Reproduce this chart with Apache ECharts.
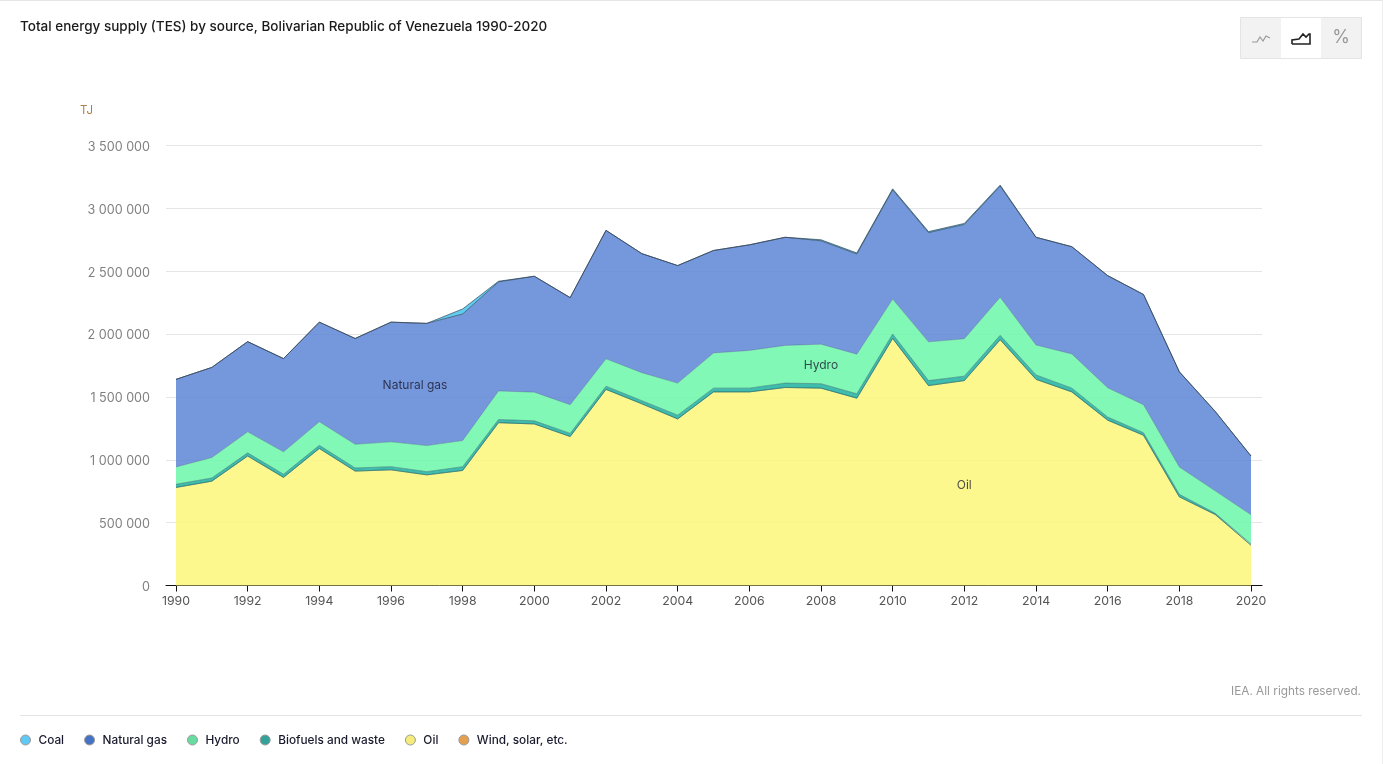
<!DOCTYPE html>
<html>
<head>
<meta charset="utf-8">
<title>Total energy supply</title>
<style>
  html, body { margin: 0; padding: 0; background: #fff; }
  #chart { width: 1383px; height: 764px; }
</style>
</head>
<body>
<div id="chart"></div>
<script src="https://cdn.jsdelivr.net/npm/echarts@6/dist/echarts.min.js"></script>
<script>
const years = ['1990','1991','1992','1993','1994','1995','1996','1997','1998','1999','2000','2001','2002','2003','2004','2005','2006','2007','2008','2009','2010','2011','2012','2013','2014','2015','2016','2017','2018','2019','2020'];

// TJ
const oil = [780000,830000,1030000,860000,1090000,910000,920000,880000,915000,1295000,1285000,1185000,1560000,1445000,1325000,1540000,1540000,1575000,1570000,1490000,1965000,1590000,1630000,1955000,1640000,1540000,1315000,1195000,705000,565000,320000];
const wind = [0,0,0,0,0,0,0,0,0,0,0,0,0,0,0,0,0,0,0,0,0,0,0,0,0,0,0,0,0,0,0];
const biofuels = [25000,25000,25000,25000,25000,25000,25000,25000,30000,25000,25000,25000,25000,25000,30000,30000,30000,35000,35000,35000,35000,40000,35000,35000,35000,30000,25000,20000,20000,10000,10000];
const hydro = [138000,163000,168000,178000,188000,188000,198000,208000,208000,228000,228000,228000,218000,223000,255000,280000,300000,300000,315000,315000,278000,308000,298000,303000,238000,272000,233000,223000,218000,178000,233000];
const gas = [697000,717000,717000,742000,792000,842000,952000,972000,1007000,867000,922000,852000,1022000,947000,935000,815000,840000,860000,822000,797000,869000,869000,909000,884000,857000,853000,892000,877000,757000,632000,467000];
const coal = [0,0,0,0,0,0,0,0,40000,5000,0,0,0,0,0,0,0,0,8000,8000,8000,8000,8000,8000,0,0,0,0,0,0,0];

const legendNames = ['Coal','Natural gas','Hydro','Biofuels and waste','Oil','Wind, solar, etc.'];
const legendColors = { 'Coal':'#5fc9f3', 'Natural gas':'#4472c4', 'Hydro':'#68dca0', 'Biofuels and waste':'#33a39a', 'Oil':'#f6ec7c', 'Wind, solar, etc.':'#e5a04f' };

const areaLabelNames = ['Natural gas','Hydro','Oil'];
const areaLabelYears = [1996.67,2008,2012];
const areaLabelValues = [1595000,1750000,800000];

const font = 'Inter, "Noto Sans", sans-serif';

function stackSeries(name, values, fill, alpha, line) {
  return {
    name: name,
    type: 'line',
    stack: 'tes',
    xAxisIndex: 1,
    yAxisIndex: 1,
    symbol: 'none',
    silent: true,
    data: values,
    lineStyle: { width: 1, color: line },
    itemStyle: { color: legendColors[name] },
    areaStyle: { color: fill, opacity: alpha }
  };
}

const chart = echarts.init(document.getElementById('chart'));
chart.setOption({
  animation: false,
  textStyle: { fontFamily: font },
  title: {
    text: 'Total energy supply (TES) by source, Bolivarian Republic of Venezuela 1990-2020',
    left: 15, top: 15,
    textStyle: { fontFamily: font, fontSize: 13.5, fontWeight: 500, color: '#1a1a1a' }
  },
  // outer grid carries the gridlines and the long axis line, inner grid the areas
  grid: [
    { left: 166, right: 121, top: 145.5, bottom: 178.5 },
    { left: 176, right: 132, top: 145.5, bottom: 178.5 }
  ],
  xAxis: [
    {
      type: 'value', gridIndex: 0, min: 1989.72, max: 2020.31,
      splitLine: { show: false },
      axisLine: { lineStyle: { color: '#111', width: 1 } },
      axisTick: { show: false },
      axisLabel: { show: false }
    },
    {
      type: 'category', gridIndex: 1, data: years, boundaryGap: false,
      axisLine: { show: false },
      axisTick: { show: true, length: 6, interval: 1, lineStyle: { color: '#111' } },
      axisLabel: { interval: 1, color: '#555', fontSize: 12.3, margin: 10 }
    }
  ],
  yAxis: [
    {
      type: 'value', gridIndex: 0, min: 0, max: 3500000, interval: 500000,
      axisLine: { show: false },
      axisTick: { show: false },
      splitLine: { lineStyle: { color: '#e6e6e6', width: 1 } },
      axisLabel: {
        margin: 16,
        formatter: v => '{t|' + String(v).replace(/\B(?=(\d{3})+$)/g, ' ') + '}',
        rich: { t: { color: '#808080', fontSize: 12.6, fontFamily: font, padding: [3, 0, 0, 0] } }
      }
    },
    {
      type: 'value', gridIndex: 1, min: 0, max: 3500000, interval: 500000, show: false
    }
  ],
  legend: {
    left: 15,
    top: 729,
    itemWidth: 10,
    itemHeight: 10,
    itemGap: 20,
    icon: 'circle',
    selectedMode: false,
    data: legendNames,
    itemStyle: { borderColor: '#999', borderWidth: 1 },
    textStyle: { fontFamily: font, fontSize: 11.8, fontWeight: 500, color: '#1a1a2e', padding: [0, 0, 0, 3] }
  },
  series: [
    stackSeries('Oil', oil, '#fdf77c', 0.86, 'rgba(60,120,110,0.6)'),
    stackSeries('Wind, solar, etc.', wind, '#e5a04f', 0.86, 'rgba(40,110,110,0.5)'),
    stackSeries('Biofuels and waste', biofuels, '#34b8aa', 0.95, 'rgba(50,110,110,0.55)'),
    stackSeries('Hydro', hydro, '#6cf7aa', 0.86, 'rgba(70,110,130,0.4)'),
    stackSeries('Natural gas', gas, '#5a83d5', 0.84, 'rgba(50,70,90,0.7)'),
    stackSeries('Coal', coal, '#4fc8ee', 0.9, 'rgba(50,70,90,0.7)'),
    {
      type: 'scatter',
      xAxisIndex: 0,
      yAxisIndex: 0,
      z: 10,
      symbolSize: 0,
      silent: true,
      data: areaLabelNames.map((n, i) => ({ name: n, value: [areaLabelYears[i], areaLabelValues[i]] })),
      label: { show: true, position: 'inside', formatter: '{b}', color: '#1a1a2e', fontSize: 12, fontFamily: font }
    }
  ],
  graphic: [
    { type: 'rect', shape: { x: 0, y: 0, width: 1383, height: 1 }, style: { fill: '#e6e6e6' }, silent: true },
    { type: 'rect', shape: { x: 1382, y: 0, width: 1, height: 764 }, style: { fill: '#eeeeee' }, silent: true },
    { type: 'text', x: 80, y: 105, style: { text: 'TJ', fill: '#b0804c', fontSize: 11.5, fontFamily: font } },
    { type: 'text', x: 1361, y: 685, style: { text: 'IEA. All rights reserved.', fill: '#999', fontSize: 11.8, fontFamily: font, align: 'right' } },
    { type: 'rect', shape: { x: 20, y: 715, width: 1342, height: 1 }, style: { fill: '#e4e4e4' }, silent: true },
    // view switch, top right
    { type: 'rect', shape: { x: 1240.5, y: 17.5, width: 121, height: 41 }, style: { fill: '#f2f2f2', stroke: '#e4e4e4', lineWidth: 1 }, silent: true },
    { type: 'rect', shape: { x: 1281, y: 18, width: 40, height: 40 }, style: { fill: '#fff' }, silent: true },
    { type: 'polyline', shape: { points: [[1252,42],[1257,42],[1260,37],[1263,41],[1266,36],[1270,38]] }, style: { stroke: '#999', fill: null, lineWidth: 1.2 }, silent: true },
    { type: 'polyline', shape: { points: [[1292,44],[1292,40],[1299,39],[1303,34],[1306,37],[1309,34],[1310,34],[1310,44],[1292,44]] }, style: { stroke: '#222', fill: null, lineWidth: 1.6 }, silent: true },
    { type: 'text', x: 1341, y: 38, style: { text: '%', fill: '#999', fontSize: 18, fontFamily: font, align: 'center', verticalAlign: 'middle' } }
  ]
});
</script>
</body>
</html>
